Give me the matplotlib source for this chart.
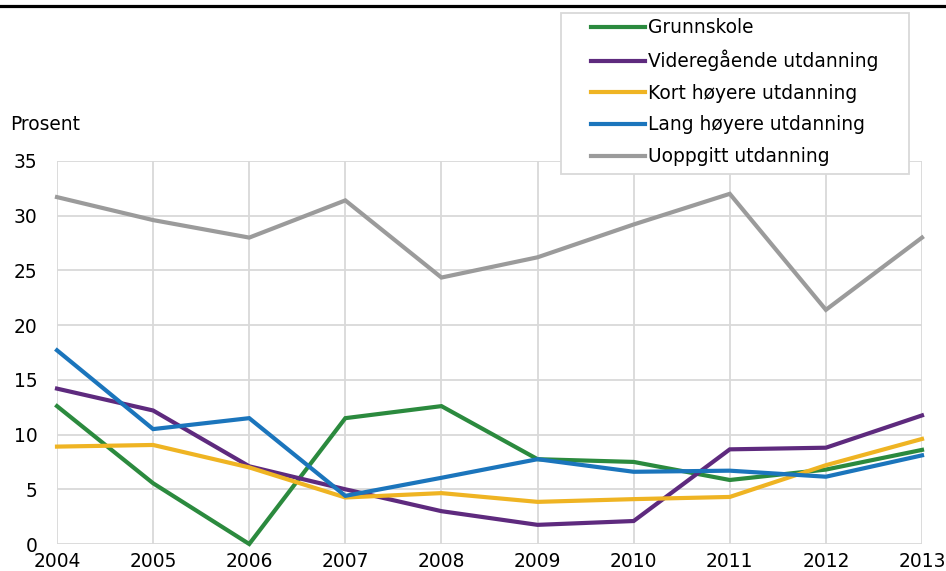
import matplotlib
matplotlib.use('Agg')
from matplotlib import pyplot as plt
from matplotlib.patches import Rectangle
from matplotlib.lines import Line2D

plt.rcParams['font.family'] = ['DejaVu Sans']
FS = 13.4

years = [2004, 2005, 2006, 2007, 2008, 2009, 2010, 2011, 2012, 2013]
grunnskole = [12.6, 5.55, 0.0, 11.5, 12.6, 7.75, 7.5, 5.85, 6.8, 8.6]
videregaende = [14.2, 12.2, 7.1, 5.0, 3.0, 1.75, 2.1, 8.65, 8.8, 11.75]
kort_hoyere = [8.9, 9.05, 7.0, 4.25, 4.65, 3.85, 4.1, 4.3, 7.2, 9.6]
lang_hoyere = [17.7, 10.5, 11.5, 4.4, 6.05, 7.75, 6.6, 6.7, 6.15, 8.1]
uoppgitt = [31.7, 29.6, 28.0, 31.4, 24.35, 26.2, 29.2, 32.0, 21.4, 28.0]

labels = ['Grunnskole', 'Videregående utdanning', 'Kort høyere utdanning',
          'Lang høyere utdanning', 'Uoppgitt utdanning']
colors = ['#2b8a3e', '#5e2a7e', '#efb423', '#1b75bc', '#9b9b9b']
series = [grunnskole, videregaende, kort_hoyere, lang_hoyere, uoppgitt]

W, H = 946, 571
fig = plt.figure(figsize=(W / 100, H / 100), dpi=100)
ax = fig.add_axes([57 / W, 1 - 544 / H, (922 - 57) / W, (544 - 161) / H])

for vals, c, lab in zip(series, colors, labels):
    ax.plot(years, vals, color=c, lw=3.0, label=lab, clip_on=False,
            solid_joinstyle='miter', zorder=3)

ax.set_xlim(2004, 2013)
ax.set_ylim(0, 35)
ax.set_xticks(years)
ax.set_yticks(range(0, 36, 5))
ax.grid(True, color='#d9d9d9', lw=1.3)
ax.set_axisbelow(True)
for s in ax.spines.values():
    s.set_visible(False)
ax.tick_params(axis='both', length=0, labelsize=FS)
ax.tick_params(axis='y', pad=14)
ax.tick_params(axis='x', pad=6)

fig.text(10 / W, 1 - 125 / H, 'Prosent', va='center', ha='left', fontsize=FS)

# black rule at top
fig.add_artist(Line2D([0, 1], [1 - 5.5 / H, 1 - 5.5 / H], color='black', lw=2.3,
                      transform=fig.transFigure))

# legend box
box = Rectangle((561 / W, 1 - 174 / H), (909 - 561) / W, (174 - 13) / H,
                transform=fig.transFigure, facecolor='white', edgecolor='#d9d9d9',
                lw=1.3, zorder=4)
fig.add_artist(box)
handles, labs = ax.get_legend_handles_labels()
leg = fig.legend(handles, labs, loc='upper left',
                 bbox_to_anchor=(578 / W, 1 - 5 / H), frameon=False,
                 handlelength=2.9, handletextpad=0.15, labelspacing=0.68,
                 borderpad=0.2, fontsize=FS)
leg.set_zorder(5)

fig.savefig('out.png', dpi=100)
